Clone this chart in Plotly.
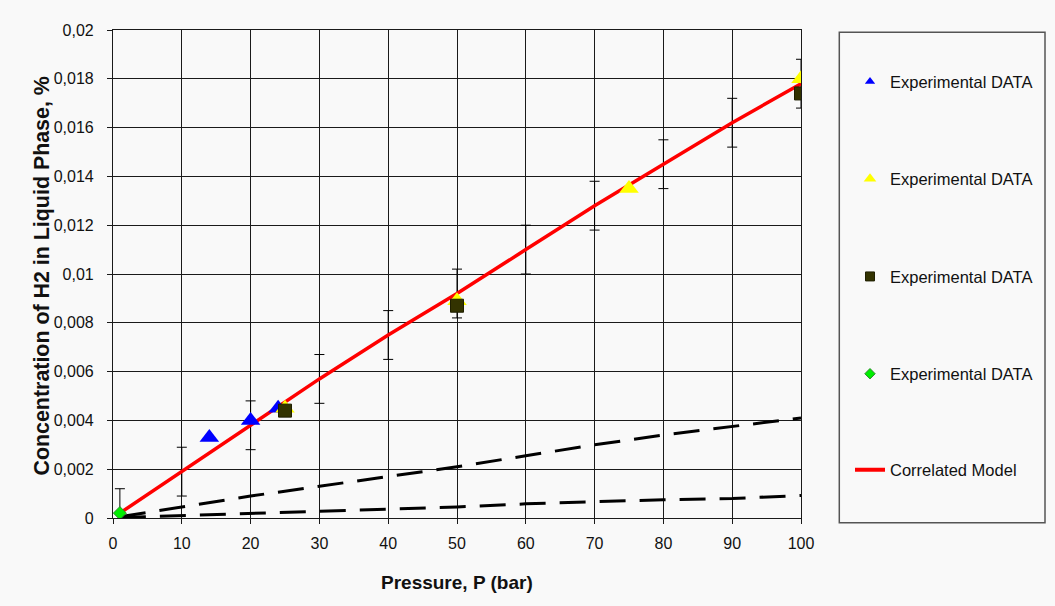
import plotly.graph_objects as go

# ---- data ----
blue_x = [14, 20, 24]
blue_y = [0.0033, 0.0040, 0.0045]

yellow_x = [25, 50, 75, 100]
yellow_y = [0.0045, 0.0089, 0.0135, 0.0180]

square_x = [25, 50, 100]
square_y = [0.0044, 0.0087, 0.0174]

green_x = [1]
green_y = [0.0002]

model_x = [1, 10, 20, 30, 40, 50, 60, 70, 80, 90, 100]
model_y = [0.0002, 0.0019, 0.0038, 0.0057, 0.0075, 0.0092, 0.0110, 0.0128, 0.0145, 0.0162, 0.0178]
model_err = [0.001, 0.001, 0.001, 0.001, 0.001, 0.001, 0.001, 0.001, 0.001, 0.001, 0.001]

dash_upper_y = [0.00005, 0.00045, 0.0009, 0.0013, 0.0017, 0.0021, 0.00255, 0.0030, 0.0034, 0.00375, 0.0041]
dash_lower_y = [0.00002, 0.0001, 0.00018, 0.00027, 0.00035, 0.00045, 0.00058, 0.00068, 0.00075, 0.0008, 0.00092]

x_ticks = [0, 10, 20, 30, 40, 50, 60, 70, 80, 90, 100]
y_ticks = [0, 0.002, 0.004, 0.006, 0.008, 0.01, 0.012, 0.014, 0.016, 0.018, 0.02]
y_ticktext = ["0", "0,002", "0,004", "0,006", "0,008", "0,01", "0,012", "0,014", "0,016", "0,018", "0,02"]

legend_label = "Experimental DATA"
model_label = "Correlated Model"

FONT = "Arial, Liberation Sans, sans-serif"
BG = "#f9f9f9"

# ---- geometry helpers (pixel -> paper) ----
L, R, T, B = 113, 254, 30, 88
W, H = 1055, 606
PW, PH = W - L - R, H - T - B


def px(x):
    return (x - L) / PW


def py(y):
    return (H - B - y) / PH


fig = go.Figure()

# dashed curves
fig.add_trace(go.Scatter(x=model_x, y=dash_upper_y, mode="lines",
                         line=dict(color="black", width=3, dash="26px,14px"),
                         showlegend=False, hoverinfo="skip"))
fig.add_trace(go.Scatter(x=model_x, y=dash_lower_y, mode="lines",
                         line=dict(color="black", width=3, dash="26px,14px"),
                         showlegend=False, hoverinfo="skip"))

# correlated model with error bars
fig.add_trace(go.Scatter(x=model_x, y=model_y, mode="lines",
                         line=dict(color="#ff0000", width=3.5),
                         error_y=dict(type="data", array=model_err, visible=True,
                                      color="black", thickness=1, width=5),
                         showlegend=False))

# experimental data (plot markers)
fig.add_trace(go.Scatter(x=blue_x, y=blue_y, mode="markers",
                         marker=dict(symbol="triangle-up", size=17, color="#0000ff"),
                         showlegend=False))
fig.add_trace(go.Scatter(x=yellow_x, y=yellow_y, mode="markers",
                         marker=dict(symbol="triangle-up", size=17, color="#ffff00"),
                         showlegend=False))
fig.add_trace(go.Scatter(x=square_x, y=square_y, mode="markers",
                         marker=dict(symbol="square", size=13, color="#333300",
                                     line=dict(color="#1f1f00", width=1)),
                         showlegend=False))
fig.add_trace(go.Scatter(x=green_x, y=green_y, mode="markers",
                         marker=dict(symbol="diamond", size=10, color="#00ee00",
                                     line=dict(color="#2a8a2a", width=1)),
                         showlegend=False))

# legend entries (one legend per entry so they can be spaced like the original)
legend_specs = [
    ("legend", dict(symbol="triangle-up", size=9, color="#0000ff"), None, legend_label, 81.7),
    ("legend2", dict(symbol="triangle-up", size=11, color="#ffff00"), None, legend_label, 179),
    ("legend3", dict(symbol="square", size=9, color="#333300", line=dict(color="#1f1f00", width=1)), None, legend_label, 276.7),
    ("legend4", dict(symbol="diamond", size=8, color="#00ee00", line=dict(color="#2a8a2a", width=1)), None, legend_label, 374),
    ("legend5", None, dict(color="#ff0000", width=4), model_label, 470),
]
legend_layouts = {}
for lg, mk, ln, name, ypix in legend_specs:
    if mk is not None:
        fig.add_trace(go.Scatter(x=[None], y=[None], mode="markers", marker=mk,
                                 name=name, legend=lg, showlegend=True))
    else:
        fig.add_trace(go.Scatter(x=[None], y=[None], mode="lines", line=ln,
                                 name=name, legend=lg, showlegend=True))
    legend_layouts[lg] = dict(x=px(850), y=py(ypix), xanchor="left", yanchor="middle",
                              bgcolor="rgba(0,0,0,0)", borderwidth=0,
                              font=dict(family=FONT, size=16.5, color="#111111"),
                              itemsizing="trace")

fig.update_layout(**legend_layouts)

fig.update_layout(
    width=W, height=H,
    margin=dict(l=L, r=R, t=T, b=B, autoexpand=False),
    paper_bgcolor=BG, plot_bgcolor=BG,
    font=dict(family=FONT, size=16, color="#111111"),
    xaxis=dict(range=[0, 100], tickvals=x_ticks, ticktext=[str(v) for v in x_ticks],
               showgrid=True, gridcolor="#1a1a1a", gridwidth=1.2,
               showline=True, linecolor="#1a1a1a", linewidth=1.2, mirror=True,
               ticks="outside", ticklen=5, tickcolor="#1a1a1a", tickwidth=1.2,
               ticklabelstandoff=6, zeroline=False,
               tickfont=dict(family=FONT, size=16, color="#111111")),
    yaxis=dict(range=[0, 0.02], tickvals=y_ticks, ticktext=y_ticktext,
               showgrid=True, gridcolor="#1a1a1a", gridwidth=1.2,
               showline=True, linecolor="#1a1a1a", linewidth=1.2, mirror=True,
               ticks="outside", ticklen=5, tickcolor="#1a1a1a", tickwidth=1.2,
               ticklabelstandoff=10, zeroline=False,
               tickfont=dict(family=FONT, size=16, color="#111111")),
    shapes=[dict(type="rect", xref="paper", yref="paper",
                 x0=px(839.3), x1=px(1045), y0=py(522.7), y1=py(32.3),
                 line=dict(color="#555555", width=1.5), fillcolor="rgba(0,0,0,0)",
                 layer="above")],
    annotations=[
        dict(text="<b>Pressure, P (bar)</b>", xref="paper", yref="paper",
             x=0.5, y=py(582.5), xanchor="center", yanchor="middle", showarrow=False,
             font=dict(family=FONT, size=19, color="#111111")),
        dict(text="<b>Concentration of H2 in Liquid Phase, %</b>", xref="paper", yref="paper",
             x=px(41), y=py(276.5), xanchor="center", yanchor="middle", showarrow=False,
             textangle=-90, font=dict(family=FONT, size=21.4, color="#111111")),
    ],
)

fig.write_html("out.html")
